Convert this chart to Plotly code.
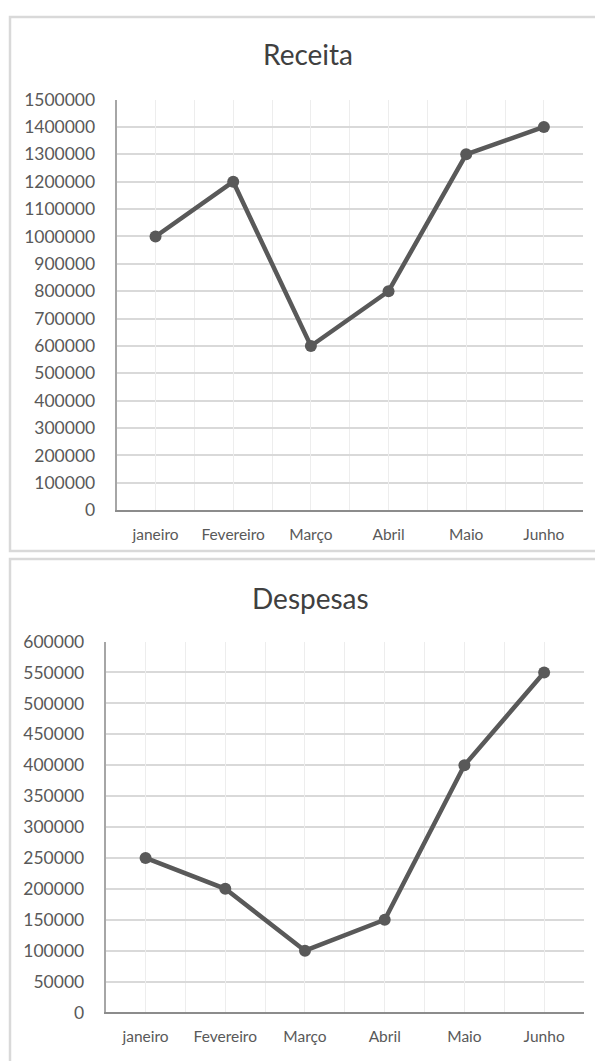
import plotly.graph_objects as go

meses = ["janeiro", "Fevereiro", "Março", "Abril", "Maio", "Junho"]
receita = [1000000, 1200000, 600000, 800000, 1300000, 1400000]
despesas = [250000, 200000, 100000, 150000, 400000, 550000]
receita_ticks = list(range(0, 1500001, 100000))
despesas_ticks = list(range(0, 600001, 50000))

W, H = 595, 1061
FONT = "Lato"
LINE_C = "#595959"
GRID_H = "#d9d9d9"
GRID_V = "#ededed"


def px_x(v):
    return v / W


def px_y(v):
    return 1 - v / H


fig = go.Figure()

fig.add_trace(go.Scatter(x=meses, y=receita, mode="lines+markers", xaxis="x", yaxis="y",
                         line=dict(color=LINE_C, width=4.5), marker=dict(size=12, color=LINE_C),
                         showlegend=False, hoverinfo="skip"))
fig.add_trace(go.Scatter(x=meses, y=despesas, mode="lines+markers", xaxis="x2", yaxis="y2",
                         line=dict(color=LINE_C, width=4.5), marker=dict(size=12, color=LINE_C),
                         showlegend=False, hoverinfo="skip"))

top_x = [px_x(116.7), px_x(582.7)]
top_y = [px_y(509.3), px_y(90.4)]
bot_x = [px_x(105.7), px_x(584.0)]
bot_y = [px_y(1021.7), px_y(643.3)]

tickfont = dict(family=FONT, size=17.5, color="#595959")
xtickfont = dict(family=FONT, size=15.5, color="#595959")

common_x = dict(type="category", categoryorder="array", categoryarray=meses,
                range=[-0.5, 5.5], tickson="boundaries", showgrid=True, gridcolor=GRID_V,
                gridwidth=1, showline=True, linecolor="#8c8c8c", linewidth=2, ticks="",
                tickfont=xtickfont, ticklabelstandoff=9, zeroline=False, fixedrange=True)
center_x = dict(type="category", categoryorder="array", categoryarray=meses,
                range=[-0.5, 5.5], showgrid=True, gridcolor=GRID_V, gridwidth=1,
                showticklabels=False, showline=False, ticks="", zeroline=False)

fig.update_layout(
    width=W, height=H,
    margin=dict(l=0, r=0, t=0, b=0),
    paper_bgcolor="white", plot_bgcolor="rgba(0,0,0,0)",
    font=dict(family=FONT, color="#595959"),
    xaxis=dict(domain=top_x, anchor="y", **common_x),
    yaxis=dict(domain=top_y, anchor="x", range=[0, 1500000], tickvals=receita_ticks,
               ticktext=[str(v) for v in receita_ticks], showgrid=True, gridcolor=GRID_H,
               gridwidth=1.5, showline=True, linecolor="#a6a6a6", linewidth=2, ticks="",
               tickfont=tickfont, ticklabelstandoff=16, zeroline=False),
    xaxis3=dict(overlaying="x", anchor="y", **center_x),
    xaxis2=dict(domain=bot_x, anchor="y2", **common_x),
    yaxis2=dict(domain=bot_y, anchor="x2", range=[0, 600000], tickvals=despesas_ticks,
                ticktext=[str(v) for v in despesas_ticks], showgrid=True, gridcolor=GRID_H,
                gridwidth=1.5, showline=True, linecolor="#a6a6a6", linewidth=2, ticks="",
                tickfont=tickfont, ticklabelstandoff=16, zeroline=False),
    xaxis4=dict(overlaying="x2", anchor="y2", **center_x),
)

fig.add_trace(go.Scatter(x=meses, y=receita, xaxis="x3", yaxis="y", mode="none",
                         showlegend=False, hoverinfo="skip"))
fig.add_trace(go.Scatter(x=meses, y=despesas, xaxis="x4", yaxis="y2", mode="none",
                         showlegend=False, hoverinfo="skip"))

# chart area borders
fig.add_shape(type="rect", xref="paper", yref="paper", x0=px_x(10), x1=1.3,
              y0=px_y(551), y1=px_y(6), line=dict(color="#d9d9d9", width=2.5), layer="below")
fig.add_shape(type="rect", xref="paper", yref="paper", x0=px_x(10), x1=1.3,
              y0=-0.1, y1=px_y(559), line=dict(color="#d9d9d9", width=2.5), layer="below")

fig.add_annotation(text="Receita", xref="paper", yref="paper", x=px_x(308), y=px_y(44),
                   xanchor="center", yanchor="middle", showarrow=False,
                   font=dict(family=FONT, size=28, color="#404040"))
fig.add_annotation(text="Despesas", xref="paper", yref="paper", x=px_x(310), y=px_y(599),
                   xanchor="center", yanchor="middle", showarrow=False,
                   font=dict(family=FONT, size=28, color="#404040"))

fig.write_html("out.html", config={"displayModeBar": False},
               post_script="document.body.style.margin='0';document.body.style.overflow='hidden';")
